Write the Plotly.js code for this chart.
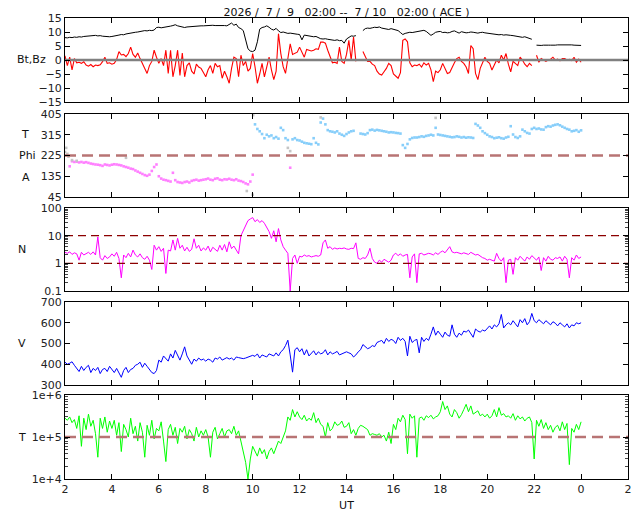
<!DOCTYPE html>
<html><head><meta charset="utf-8">
<script src="https://cdn.plot.ly/plotly-3.0.1.min.js"></script>
<style>html,body{margin:0;padding:0;background:#fff}#chart{width:640px;height:512px}</style>
</head><body><div id="chart"></div>
<script>
// time grid: samples every 0.1 h starting at 02 UT (hour 24 = 00 UT next day)
const START_HOUR = 2;
const STEP_HOUR = 0.1;
const xTickVals = [2,4,6,8,10,12,14,16,18,20,22,24,26];
const xTickText = ['2','4','6','8','10','12','14','16','18','20','22','0','2'];

const bt = [
8.0,7.9,8.1,8.0,8.2,8.1,8.3,8.2,8.4,8.5,
8.6,8.5,8.7,8.8,8.6,8.7,8.5,8.4,8.3,8.3,
8.4,8.5,8.6,8.9,9.1,9.0,9.3,9.5,9.6,9.8,
9.9,10.0,10.2,10.3,10.5,10.4,10.6,10.5,10.7,11.6,
11.7,11.5,11.6,11.8,11.9,12.1,12.3,12.6,12.2,12.0,
11.7,11.6,11.8,11.9,12.0,11.9,12.0,12.1,12.2,12.2,
12.3,12.2,12.3,12.4,12.3,12.3,12.5,12.4,12.3,12.2,
12.6,13.2,12.4,12.8,11.6,11.2,10.5,7.5,4.0,3.2,
3.0,3.5,6.5,11.0,11.6,11.8,12.2,11.7,11.0,10.7,
11.3,10.4,9.8,10.0,9.7,9.5,9.6,9.4,9.3,9.2,
9.1,7.2,8.9,8.7,8.6,8.5,8.3,8.4,7.9,7.6,
7.5,7.6,7.4,7.2,7.1,7.0,7.2,6.9,7.0,6.0,
7.5,8.2,8.6,8.5,8.7,null,null,10.5,11.2,11.4,
11.3,11.5,11.7,11.6,11.8,11.4,11.3,11.1,10.9,11.2,
10.9,10.7,10.5,9.8,9.1,9.5,9.8,9.9,9.8,10.0,
10.0,10.3,10.5,10.6,10.2,9.6,8.8,9.3,9.9,10.1,
10.2,9.8,9.9,9.7,9.8,10.2,10.4,10.0,9.6,10.1,
9.8,9.7,9.8,10.0,9.9,9.7,9.6,9.8,9.9,9.7,
9.6,9.4,9.2,9.3,9.1,9.0,9.1,8.9,9.0,8.8,
8.8,8.7,8.6,8.4,8.3,8.1,8.3,8.0,7.7,7.4,
null,5.3,5.2,5.2,5.3,5.2,5.3,5.3,5.2,5.3,
5.4,5.4,5.5,5.4,5.6,5.5,5.4,5.3,5.3,5.2,
5.2];

const bz = [
1.5,-2.0,1.0,-3.5,0.5,-1.0,-0.8,-1.2,-0.6,-1.8,
-2.2,-1.6,-2.4,-1.8,-2.0,-1.7,-0.6,1.0,-1.2,-1.0,
-1.5,-1.2,0.2,3.0,1.8,2.0,1.2,2.3,4.6,2.0,
1.0,2.5,0.5,-1.0,-3.0,-4.8,-2.0,-0.5,3.5,1.0,
-1.2,0.5,-2.0,3.5,-4.8,3.5,-6.0,-2.0,3.5,-5.5,
2.5,-6.0,-2.0,-1.0,-4.0,-5.0,-1.5,-2.5,-3.0,-4.5,
-6.0,-3.5,-2.0,-4.8,-1.2,-2.4,-2.0,-6.5,-4.0,-6.0,
-8.3,-3.0,1.0,0.5,-6.0,1.7,-2.0,-0.5,-4.0,-3.0,
2.3,-2.4,-8.3,-5.0,-1.2,-6.0,-3.0,1.0,-3.5,-7.0,
-4.0,9.4,2.3,-2.4,-4.8,0.5,5.8,2.0,2.3,2.8,
4.6,3.0,1.0,3.8,3.5,3.2,3.5,4.0,3.8,6.4,
6.4,6.0,3.5,1.5,-1.0,-0.8,-1.2,4.6,-0.5,-1.2,
2.0,7.0,0.0,8.2,-0.5,null,null,3.0,1.0,-0.5,
-0.5,-1.5,-2.0,-4.0,-5.0,-5.4,-4.2,-3.0,-1.2,-2.0,
-5.0,-5.8,-6.5,-4.5,7.0,7.5,6.5,-1.0,-2.4,-1.8,
-2.0,-1.5,-2.5,-1.0,-1.8,-1.2,-3.5,-7.7,-4.0,-4.5,
-3.5,-1.2,-3.0,-4.8,-4.5,-2.4,-1.0,0.5,1.0,-0.5,
-1.2,-2.5,-4.8,5.2,4.0,-4.8,-7.0,-3.0,-1.2,1.0,
-0.5,-1.2,-3.6,-2.0,0.0,-1.0,1.7,0.0,2.3,-1.5,
-4.2,-0.5,-1.2,-2.0,1.0,0.0,-1.5,-2.4,-1.2,-2.0,
null,1.7,-0.8,0.5,0.0,-0.5,0.0,0.3,1.0,0.0,
0.3,-0.3,0.5,0.5,0.0,0.2,-0.2,1.0,-0.8,0.3,
-0.8];

const phi = [
null,null,178,200,197,198,195,197,194,196,
193,190,188,186,185,183,180,186,184,182,
185,187,186,184,182,178,175,172,168,166,
160,155,150,145,140,137,142,158,175,186,
135,125,120,118,115,112,150,118,110,108,
106,110,112,108,115,118,120,116,118,120,
122,125,120,118,124,126,120,118,122,121,
124,120,118,122,116,114,110,104,100,112,
142,360,340,330,318,300,315,308,312,300,
305,298,345,335,300,292,172,295,300,292,
290,285,280,278,276,274,300,280,273,368,
385,360,335,330,328,325,330,320,315,310,
318,325,330,332,null,null,320,318,316,322,
335,337,333,336,334,332,330,328,325,326,
325,323,322,320,270,258,275,295,301,303,
303,305,308,306,310,312,315,312,345,316,
314,312,310,308,306,304,305,308,306,303,
305,302,304,303,301,362,355,345,330,322,
315,308,305,300,302,304,300,298,303,306,
352,316,305,301,308,337,330,323,320,340,
345,340,342,338,337,348,352,350,355,358,
360,356,350,345,340,337,330,332,335,328,
334];
const phiGreyHours = [2.0,2.05,2.1,2.15,2.3,2.5,4.6,9.75,10.0,10.02,11.5,11.6,12.9,17.8];
const phiGreyVals  = [240,258,232,220,205,202,215,71,55,400,258,244,390,388];

const density = [
2.5,2.3,2.6,2.1,2.4,2.2,1.3,2.5,2.0,2.3,
2.5,2.1,2.6,2.0,9.0,1.6,1.3,1.9,1.5,1.7,
2.2,1.8,2.5,1.5,0.3,2.0,1.6,2.3,1.7,3.0,
2.0,1.7,2.2,1.6,1.4,1.8,1.3,0.6,4.5,3.0,
4.0,2.7,3.5,0.43,3.0,2.8,7.0,3.0,8.0,3.5,
4.5,2.8,3.8,2.7,3.2,7.7,3.5,4.5,2.8,3.6,
3.0,4.2,2.6,3.8,3.3,2.7,4.5,3.0,4.8,2.6,
6.0,3.4,4.2,3.0,2.2,10.0,15,23,35,40,
45,32,38,30,35,28,20,14,8,15,
6,18,7,4,3,2.3,0.1,1.5,2.0,1.0,
1.8,1.7,2.0,1.8,1.9,1.7,1.8,1.9,1.8,2.0,
5.5,7.0,3.5,4.0,3.2,3.6,3.3,3.5,3.4,3.6,
3.3,3.2,3.5,3.4,5.5,1.5,1.4,1.6,1.5,2.0,
3.5,1.5,1.1,1.0,1.3,1.1,1.4,1.2,1.1,1.3,
2.0,2.3,1.9,2.2,1.8,2.0,2.1,0.3,1.7,2.2,
0.2,2.2,2.3,2.0,2.1,2.3,2.2,2.0,2.4,2.1,
2.5,2.8,2.4,3.0,4.0,2.6,2.4,2.5,2.3,2.2,
2.4,2.3,2.1,2.5,2.2,2.0,2.1,1.8,1.6,1.5,
1.3,1.4,1.3,1.2,2.3,1.5,1.2,1.6,0.2,1.3,
1.4,0.4,1.6,1.3,1.8,1.5,1.2,1.7,1.4,1.9,
1.5,1.3,1.7,0.55,1.6,1.2,1.8,1.4,1.3,1.6,
1.5,1.7,1.2,1.8,1.4,0.3,1.6,1.3,2.0,1.5,
1.7];

const speed = [
410,400,405,412,395,380,365,390,370,385,
395,360,380,370,385,355,375,380,365,390,
375,360,380,355,337,370,385,360,375,380,
395,400,410,385,405,390,375,360,355,370,
420,410,440,425,415,450,430,467,440,420,
450,484,440,420,400,425,415,430,420,425,
415,425,420,410,430,425,435,420,428,432,
425,430,420,435,432,428,427,430,435,440,
443,438,450,430,445,440,435,450,445,440,
455,440,460,470,490,516,445,362,470,480,
460,475,445,470,440,455,465,445,460,450,
455,470,445,460,450,455,462,445,450,458,
460,455,450,435,445,460,470,495,485,475,
480,490,485,505,510,515,500,525,510,520,
515,500,530,515,525,510,440,535,505,515,
520,455,530,510,525,515,545,580,540,560,
545,530,555,540,535,590,545,530,550,540,
560,555,565,545,530,570,560,555,565,560,
575,585,570,590,580,595,640,575,590,600,
590,610,595,580,615,600,620,590,605,645,
610,600,615,605,595,610,600,590,605,598,
585,600,590,580,595,575,590,585,600,595,
600];

const temperature = [
2.8e5,2.5e5,3.0e5,2.2e5,2.6e5,1.6e5,3.2e5,6e4,2.8e5,1.5e5,
3.5e5,1.8e5,2.5e5,1.2e5,3.3e4,2.8e5,1.6e5,3.0e5,1.3e5,2.4e5,
1.6e5,2.5e5,1.1e5,2.2e5,4.5e4,2.0e5,1.5e5,1.0e5,2.8e5,1.2e5,
1.8e5,8e4,2.2e5,1.3e5,3.3e4,1.9e5,1.1e5,2.5e5,9e4,1.6e5,
1.4e5,2.3e5,8e4,2.6e4,1.5e5,2.0e5,1.1e5,1.7e5,7e4,1.6e5,
1.3e5,1.8e5,9e4,1.5e5,1.2e5,8e4,1.7e5,1.0e5,1.4e5,1.1e5,
1.5e5,1.0e5,3.3e4,1.3e5,1.7e5,9e4,1.2e5,1.6e5,1.0e5,1.4e5,
1.5e5,1.2e5,1.8e5,1.1e5,1.4e5,8e4,4.5e4,2.5e4,1.0e4,3.0e4,
6e4,4.5e4,3.5e4,5.5e4,4.0e4,5e4,3.0e4,4.5e4,5.5e4,4.0e4,
6e4,8e4,7e4,1.0e5,1.4e5,3.0e5,2.5e5,4.5e5,3.0e5,4.0e5,
3.0e5,2.6e5,3.3e5,2.4e5,2.8e5,2.5e5,3.8e5,2.2e5,2.8e5,2.0e5,
1.8e5,1.0e5,2.2e5,1.4e5,1.6e5,2.3e5,1.9e5,2.0e5,2.4e5,1.7e5,
1.8e5,2.2e5,1.2e5,1.5e5,1.1e5,1.6e5,1.9e5,1.8e5,1.6e5,1.5e5,
1.1e5,1.2e5,1.15e5,1.1e5,1.2e5,1.0e5,1.1e5,8e4,1.3e5,7e4,
2.0e5,1.5e5,2.8e5,2.3e5,3.3e5,2.6e5,4.0e4,3.5e5,2.8e5,3.2e5,
3.3e4,2.8e5,3.0e5,2.5e5,3.2e5,2.9e5,3.3e5,2.7e5,3.0e5,3.2e5,
4.0e5,7.0e5,4.5e5,5.5e5,3.5e5,3.0e5,4.5e5,3.8e5,2.8e5,3.4e5,
4.5e5,6.0e5,4.0e5,5.5e5,3.5e5,3.8e5,4.2e5,3.2e5,3.5e5,3.0e5,
3.5e5,2.8e5,3.2e5,4.5e5,3.0e5,5.0e5,3.3e5,3.6e5,3.0e5,3.2e5,
2.8e5,3.6e5,2.5e5,3.2e5,2.7e5,3.0e5,2.4e5,2.8e5,3.0e5,2.2e5,
3.0e4,2.5e5,1.8e5,2.6e5,1.6e5,2.2e5,1.5e5,1.9e5,1.3e5,1.7e5,
1.9e5,1.4e5,2.3e5,1.5e5,2.1e5,2.2e4,1.6e5,1.3e5,2.0e5,1.5e5,
2.3e5];

// reference levels
const bzRef = 0;
const phiRef = 225;
const nRefs = [1, 10];
const tRef = 1e5;

const hours = bt.map((_, i) => Math.round((START_HOUR + i * STEP_HOUR) * 100) / 100);
const xEnds = [xTickVals[0], xTickVals[xTickVals.length - 1]];

function logMinor(lo, hi) {
  const v = [];
  for (let e = lo; e < hi; e++) for (let m = 2; m <= 9; m++) v.push(m * Math.pow(10, e));
  return v;
}

const PINK = '#ff80ff', SKY = '#87cefa', GREY = '#c4c4c4';
const refDash = {color: '#b87474', width: 2.4, dash: '11px,6px'};

const traces = [
  {x: hours, y: bt, xaxis: 'x', yaxis: 'y', mode: 'lines', line: {color: '#000', width: 1}},
  {x: hours, y: bz, xaxis: 'x', yaxis: 'y', mode: 'lines', line: {color: '#ff0000', width: 1.1}},
  {x: xEnds, y: [bzRef, bzRef], xaxis: 'x', yaxis: 'y', mode: 'lines', line: {color: '#808080', width: 2.6}},
  {x: hours, y: phi, xaxis: 'x2', yaxis: 'y2', mode: 'markers',
   marker: {size: 2.6, symbol: 'square', color: phi.map(v => v === null ? PINK : (v >= phiRef ? SKY : PINK))}},
  {x: phiGreyHours, y: phiGreyVals, xaxis: 'x2', yaxis: 'y2', mode: 'markers',
   marker: {size: 2.6, symbol: 'square', color: GREY}},
  {x: xEnds, y: [phiRef, phiRef], xaxis: 'x2', yaxis: 'y2', mode: 'lines', line: refDash},
  {x: hours, y: density, xaxis: 'x3', yaxis: 'y3', mode: 'lines', line: {color: '#ff00ff', width: 1}},
  {x: xEnds, y: [nRefs[0], nRefs[0]], xaxis: 'x3', yaxis: 'y3', mode: 'lines', line: {color: '#8b0000', width: 1.3, dash: '8px,5px'}},
  {x: xEnds, y: [nRefs[1], nRefs[1]], xaxis: 'x3', yaxis: 'y3', mode: 'lines', line: {color: '#8b0000', width: 1.3, dash: '8px,5px'}},
  {x: hours, y: speed, xaxis: 'x4', yaxis: 'y4', mode: 'lines', line: {color: '#0000ff', width: 1}},
  {x: hours, y: temperature, xaxis: 'x5', yaxis: 'y5', mode: 'lines', line: {color: '#00ff00', width: 1}},
  {x: xEnds, y: [tRef, tRef], xaxis: 'x5', yaxis: 'y5', mode: 'lines', line: refDash}
];

const tickFont = {family: 'DejaVu Sans', size: 11, color: '#222'};
function xax(anchor, labels) {
  return {anchor, domain: [0, 1], range: xEnds, tickmode: 'array', tickvals: xTickVals, ticktext: xTickText,
    showticklabels: labels, ticks: 'inside', ticklen: 5, tickcolor: '#000', mirror: 'ticks',
    showline: true, linecolor: '#000', linewidth: 1, showgrid: false, zeroline: false, tickfont: tickFont};
}
function yax(anchor, domain, extra) {
  return Object.assign({anchor, domain, ticks: 'inside', ticklen: 5, tickcolor: '#000', mirror: 'ticks',
    showline: true, linecolor: '#000', linewidth: 1, showgrid: false, zeroline: false, tickfont: tickFont}, extra);
}

const layout = {
  width: 640, height: 512, paper_bgcolor: '#fff', plot_bgcolor: '#fff', showlegend: false,
  margin: {l: 65, r: 12, t: 18, b: 33},
  font: {family: 'DejaVu Sans', size: 11, color: '#111'},
  title: {text: '2026 / \u00a07 / \u00a09 \u00a0 02:00 -- \u00a07 / 10 \u00a0 02:00 ( ACE )',
    font: {family: 'DejaVu Sans', size: 11, color: '#111'}, x: 0.5, xref: 'paper', y: 0.977, yref: 'container', yanchor: 'middle'},
  xaxis: xax('y', false), xaxis2: xax('y2', false), xaxis3: xax('y3', false), xaxis4: xax('y4', false),
  xaxis5: Object.assign(xax('y5', true), {title: {text: 'UT', font: {family: 'DejaVu Sans', size: 11, color: '#111'}, standoff: 6}}),
  yaxis: yax('x', [0.8178, 1], {range: [-15, 15], tickmode: 'array', tickvals: [-15,-10,-5,0,5,10,15]}),
  yaxis2: yax('x2', [0.6117, 0.7918], {range: [45, 405], tickmode: 'array', tickvals: [45,135,225,315,405]}),
  yaxis3: yax('x3', [0.4078, 0.5879], {type: 'log', range: [-1, 2], tickmode: 'array', tickvals: [0.1,1,10,100], ticktext: ['0.1','1','10','100'],
    minor: {tickmode: 'array', tickvals: logMinor(-1, 2), ticks: 'inside', ticklen: 3, tickcolor: '#444'}}),
  yaxis4: yax('x4', [0.2039, 0.3839], {range: [300, 700], tickmode: 'array', tickvals: [300,400,500,600,700]}),
  yaxis5: yax('x5', [0, 0.1822], {type: 'log', range: [4, 6], tickmode: 'array', tickvals: [1e4,1e5,1e6], ticktext: ['1e+4','1e+5','1e+6'],
    minor: {tickmode: 'array', tickvals: logMinor(4, 6), ticks: 'inside', ticklen: 3, tickcolor: '#444'}}),
  annotations: [
    {text: 'Bt,Bz', xref: 'paper', x: 0, xshift: -34, xanchor: 'center', yref: 'y domain', y: 0.5, showarrow: false},
    {text: 'T', xref: 'paper', x: 0, xshift: -40, xanchor: 'center', yref: 'y2', y: 315, showarrow: false},
    {text: 'Phi', xref: 'paper', x: 0, xshift: -38, xanchor: 'center', yref: 'y2', y: 225, showarrow: false},
    {text: 'A', xref: 'paper', x: 0, xshift: -39, xanchor: 'center', yref: 'y2', y: 130, showarrow: false},
    {text: 'N', xref: 'paper', x: 0, xshift: -43, xanchor: 'center', yref: 'y3 domain', y: 0.5, showarrow: false},
    {text: 'V', xref: 'paper', x: 0, xshift: -43, xanchor: 'center', yref: 'y4 domain', y: 0.5, showarrow: false},
    {text: 'T', xref: 'paper', x: 0, xshift: -43, xanchor: 'center', yref: 'y5 domain', y: 0.5, showarrow: false}
  ]
};

Plotly.newPlot('chart', traces, layout, {staticPlot: true, displayModeBar: false});
</script>
</body></html>
